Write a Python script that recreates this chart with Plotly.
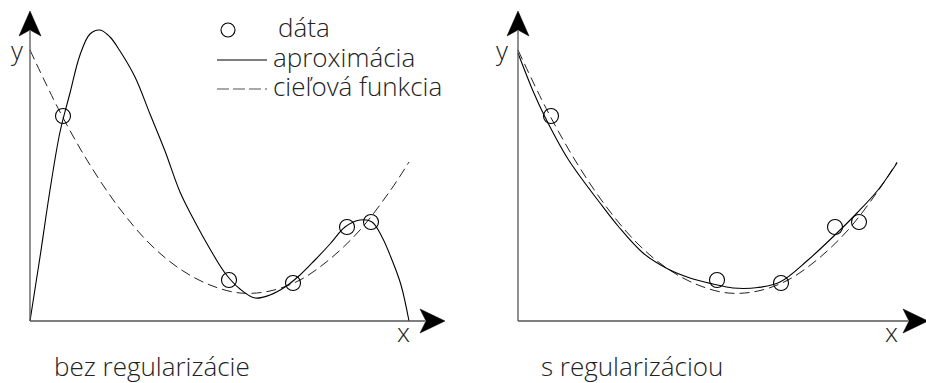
import plotly.graph_objects as go

W, H = 926, 383

# data points (same in both panels)
data_x = [33, 199, 263, 317, 341]
data_y = [205, 41, 38, 94, 99]

# target function (dashed)
target_x = [0, 30, 60, 90, 120, 150, 180, 210, 240, 270, 300, 330, 360, 379]
target_y = [271, 209, 156, 112, 77, 52, 36, 28, 30, 41, 62, 91, 130, 159]

# approximation without regularization
approx1_x = [0, 10, 20, 30, 40, 50, 60, 70, 80, 90, 105, 120, 135, 150, 165, 180, 195,
             210, 225, 240, 255, 270, 285, 300, 315, 330, 342, 352, 362, 371, 379]
approx1_y = [0, 64, 131, 189, 228, 266, 287, 291, 284, 270, 244, 207, 170, 129, 99, 72, 48,
             32, 23, 26, 34, 46, 61, 77, 94, 101, 99, 84, 61, 36, 0]

# approximation with regularization
approx2_x = [0, 15, 27, 50, 82, 100, 125, 150, 172, 195, 215, 240, 262, 290, 319, 339, 360, 379]
approx2_y = [268, 230, 204, 162, 118, 95, 68, 52, 43, 37, 33, 33.5, 39, 61, 88, 108, 131, 158]

legend_labels = ["dáta", "aproximácia", "cieľová funkcia"]
panel_titles = ["bez regularizácie", "s regularizáciou"]

FONT = "Open Sans"
DASH = "10px,5px"


def px(x, y):
    return x / W, 1 - y / H


fig = go.Figure()

for i, (ax_x, ax_y) in enumerate([(approx1_x, approx1_y), (approx2_x, approx2_y)]):
    xa = "x" if i == 0 else "x2"
    ya = "y" if i == 0 else "y2"
    fig.add_trace(go.Scatter(x=target_x, y=target_y, mode="lines", line_shape="spline",
                             line=dict(color="#222", width=1, dash=DASH),
                             xaxis=xa, yaxis=ya, cliponaxis=False))
    fig.add_trace(go.Scatter(x=ax_x, y=ax_y, mode="lines", line_shape="spline",
                             line=dict(color="black", width=1.1, smoothing=1),
                             xaxis=xa, yaxis=ya, cliponaxis=False))
    fig.add_trace(go.Scatter(x=data_x, y=data_y, mode="markers",
                             marker=dict(symbol="circle-open", size=15, color="black",
                                         line=dict(width=1.1)),
                             xaxis=xa, yaxis=ya, cliponaxis=False))

# 1 axis unit = 1 px; origin of each panel sits 20 px inside its domain
ydom = [42 / H, 1]
ax_common = dict(visible=False, fixedrange=True)
fig.update_layout(
    width=W, height=H,
    margin=dict(l=0, r=0, t=0, b=0),
    paper_bgcolor="white", plot_bgcolor="white",
    showlegend=False,
    xaxis=dict(domain=[10 / W, 480 / W], range=[-20, 450], **ax_common),
    yaxis=dict(domain=ydom, range=[-20, 321], **ax_common),
    xaxis2=dict(domain=[498 / W, 1], range=[-20, 408], **ax_common),
    yaxis2=dict(domain=ydom, range=[-20, 321], anchor="x2", **ax_common),
)

# axes drawn as lines with filled arrowheads
for xa, ya, xtip in [("x", "y", 415), ("x2", "y2", 410)]:
    ytip = 310
    fig.add_shape(type="line", xref=xa, yref=ya, x0=0, y0=0, x1=0, y1=ytip - 20,
                  line=dict(color="#555", width=1.3))
    fig.add_shape(type="line", xref=xa, yref=ya, x0=0, y0=0, x1=xtip - 20, y1=0,
                  line=dict(color="#555", width=1.3))
    fig.add_shape(type="path", xref=xa, yref=ya,
                  path=f"M0,{ytip} L-11,{ytip - 25} L0,{ytip - 19} L11,{ytip - 25} Z",
                  fillcolor="black", line=dict(color="black", width=0.5))
    fig.add_shape(type="path", xref=xa, yref=ya,
                  path=f"M{xtip},0 L{xtip - 25},12 L{xtip - 19},0 L{xtip - 25},-12 Z",
                  fillcolor="black", line=dict(color="black", width=0.5))

lbl = dict(family=FONT, size=26, color="#222", weight=300)
for (x, y, t) in [(17, 50, "y"), (403, 332, "x"), (502, 50, "y"), (891, 332, "x")]:
    X, Y = px(x, y)
    fig.add_annotation(x=X, y=Y, xref="paper", yref="paper", text=t, showarrow=False,
                       font=lbl, xanchor="center", yanchor="middle")

txt = dict(family=FONT, size=26, color="#222", weight=300)
for (x, y, t) in [(52, 366, panel_titles[0]), (539, 366, panel_titles[1])]:
    X, Y = px(x, y)
    fig.add_annotation(x=X, y=Y, xref="paper", yref="paper", text=t, showarrow=False,
                       font=txt, xanchor="left", yanchor="middle")

# legend
for (x, y, t) in [(276, 27, legend_labels[0]), (271, 57, legend_labels[1]),
                  (271, 86, legend_labels[2])]:
    X, Y = px(x, y)
    fig.add_annotation(x=X, y=Y, xref="paper", yref="paper", text=t, showarrow=False,
                       font=txt, xanchor="left", yanchor="middle")

cx, cy = 228, 30
x0, y0 = px(cx - 7, cy - 7)
x1, y1 = px(cx + 7, cy + 7)
fig.add_shape(type="circle", xref="paper", yref="paper", x0=x0, y0=y1, x1=x1, y1=y0,
              line=dict(color="black", width=1.1))
for yy, dash, col in [(60, "solid", "black"), (89, "12px,4px", "#555")]:
    a, b = px(217, yy)
    c, _ = px(267, yy)
    fig.add_shape(type="line", xref="paper", yref="paper", x0=a, y0=b, x1=c, y1=b,
                  line=dict(color=col, width=1.1, dash=dash))

fig.write_html("out.html", config={"displayModeBar": False},
               post_script="document.body.style.margin='0';")
